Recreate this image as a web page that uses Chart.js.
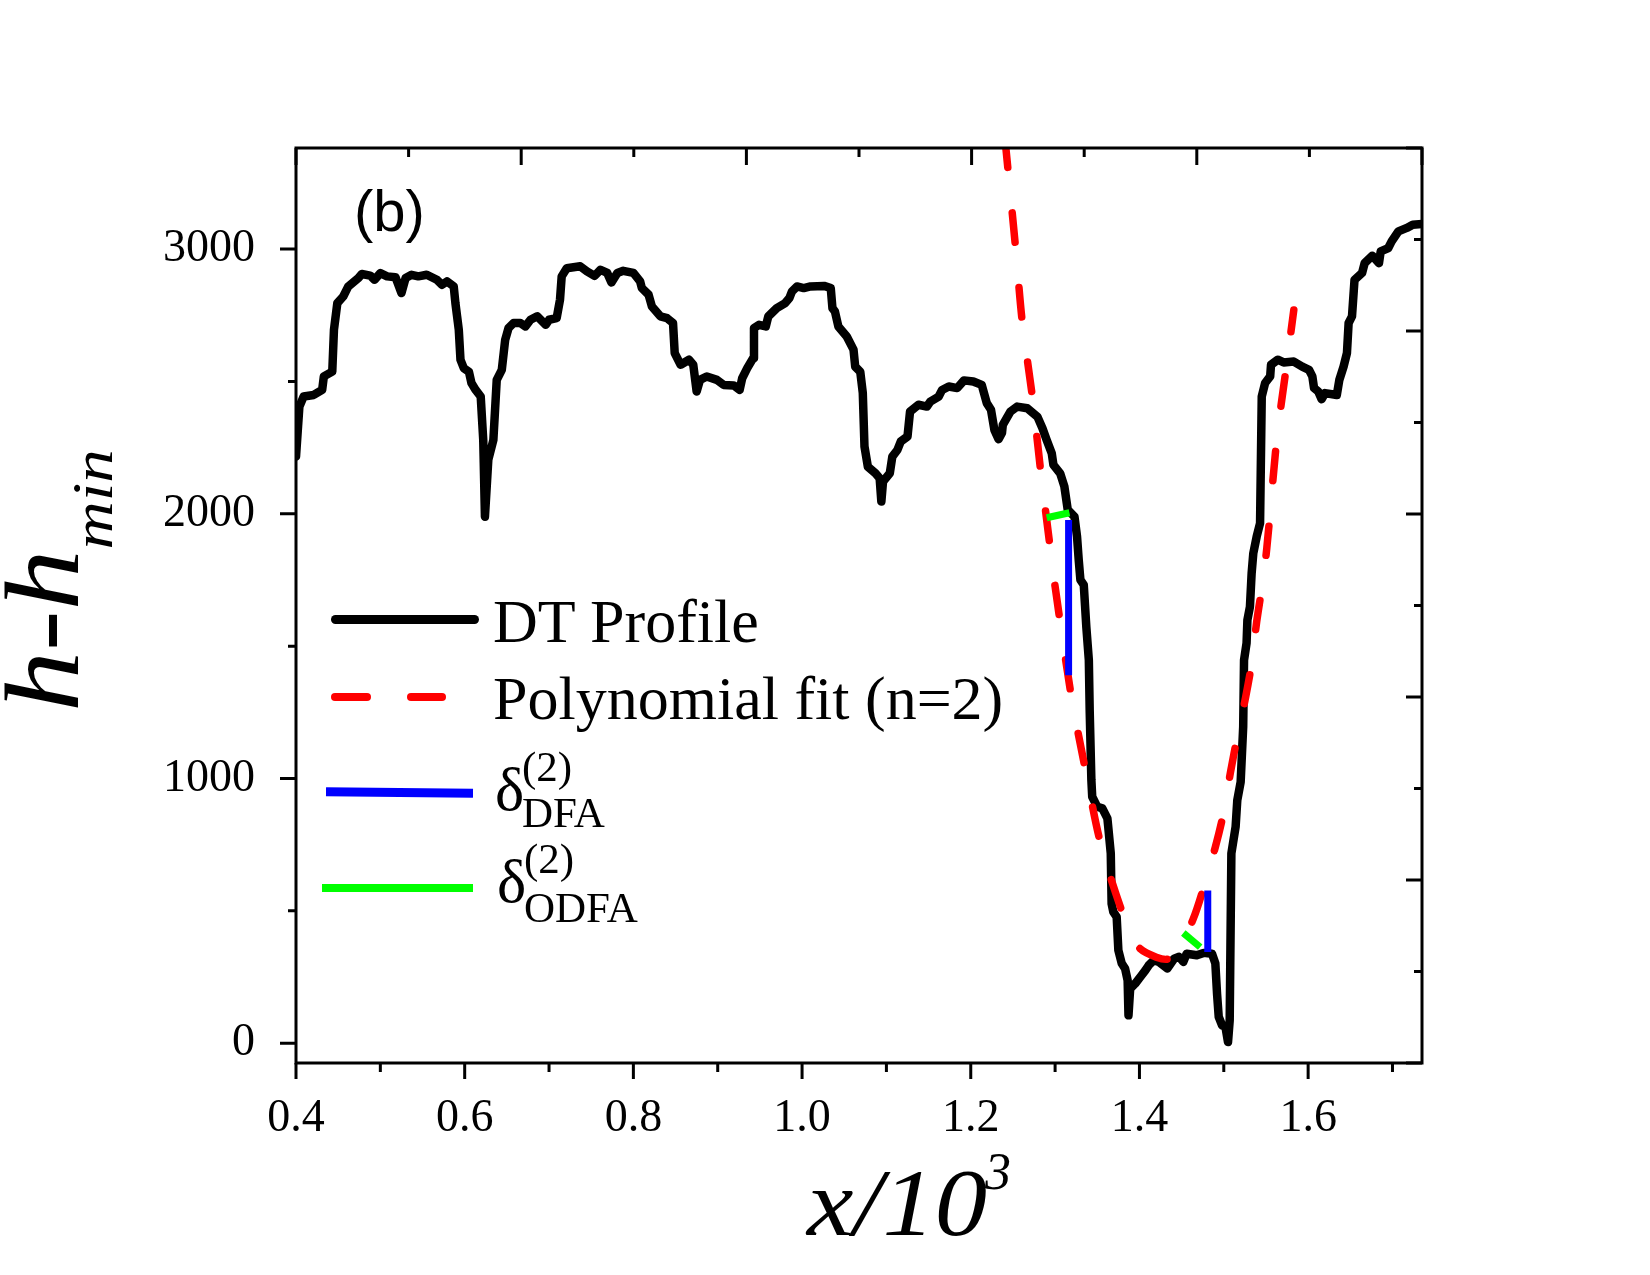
<!DOCTYPE html>
<html>
<head>
<meta charset="utf-8">
<title>DT profile and polynomial fit</title>
<script src="https://cdn.jsdelivr.net/npm/chart.js@4.4.1/dist/chart.umd.min.js"></script>
<style>
    html, body { margin: 0; padding: 0; background: #fff; }
    #wrap { position: relative; width: 1650px; height: 1275px; overflow: hidden; }
    #chart { position: absolute; left: 0; top: 0; }
    .txt { position: absolute; white-space: nowrap; line-height: 1; color: #000; font-family: "Liberation Serif", "Times New Roman", serif; }
    .swatch { position: absolute; }
</style>
</head>
<body>
<div id="wrap">
    <canvas id="chart" width="1650" height="1275"></canvas>
</div>
<script>
// --- data ---
const profileX = [0.400, 0.404, 0.409, 0.421, 0.431, 0.433, 0.443, 0.445, 0.449, 0.456, 0.462, 0.474, 0.478, 0.488, 0.493,
    0.500, 0.508, 0.518, 0.525, 0.530, 0.537, 0.545, 0.555, 0.567, 0.573, 0.579, 0.587, 0.589, 0.593, 0.595, 0.599,
    0.605, 0.608, 0.613, 0.619, 0.622, 0.624, 0.628, 0.634, 0.638, 0.644, 0.648, 0.652, 0.658, 0.666, 0.672, 0.678,
    0.686, 0.696, 0.700, 0.709, 0.713, 0.715, 0.721, 0.737, 0.745, 0.754, 0.761, 0.769, 0.774, 0.781, 0.788, 0.800,
    0.808, 0.810, 0.818, 0.822, 0.832, 0.840, 0.847, 0.849, 0.856, 0.866, 0.871, 0.875, 0.879, 0.887, 0.899, 0.907,
    0.919, 0.926, 0.929, 0.935, 0.942, 0.943, 0.949, 0.957, 0.960, 0.970, 0.980, 0.985, 0.988, 0.994, 1.002, 1.010,
    1.026, 1.034, 1.036, 1.039, 1.043, 1.053, 1.061, 1.063, 1.069, 1.072, 1.074, 1.078, 1.087, 1.092, 1.094, 1.096,
    1.104, 1.107, 1.113, 1.117, 1.125, 1.128, 1.138, 1.148, 1.152, 1.162, 1.166, 1.174, 1.184, 1.192, 1.203, 1.213,
    1.219, 1.224, 1.228, 1.233, 1.237, 1.238, 1.247, 1.255, 1.267, 1.279, 1.285, 1.290, 1.296, 1.298, 1.306, 1.311,
    1.315, 1.323, 1.326, 1.328, 1.330, 1.334, 1.337, 1.340, 1.341, 1.343, 1.344, 1.350, 1.356, 1.362, 1.363, 1.366,
    1.367, 1.369, 1.373, 1.375, 1.379, 1.383, 1.386, 1.387, 1.389, 1.395, 1.401, 1.407, 1.411, 1.417, 1.423, 1.433,
    1.441, 1.447, 1.452, 1.456, 1.468, 1.476, 1.486, 1.490, 1.492, 1.494, 1.498, 1.502, 1.505, 1.507, 1.509, 1.514,
    1.516, 1.520, 1.523, 1.524, 1.527, 1.528, 1.531, 1.533, 1.535, 1.539, 1.543, 1.545, 1.549, 1.555, 1.556, 1.564,
    1.571, 1.583, 1.593, 1.601, 1.605, 1.607, 1.612, 1.616, 1.620, 1.634, 1.637, 1.642, 1.646, 1.648, 1.652, 1.655,
    1.664, 1.667, 1.676, 1.684, 1.686, 1.695, 1.699, 1.707, 1.717, 1.724, 1.735];
const profileY = [2216, 2405, 2443, 2449, 2468, 2519, 2537, 2695, 2796, 2821, 2859, 2891, 2906, 2900, 2884,
    2909, 2897, 2894, 2834, 2891, 2903, 2897, 2903, 2884, 2865, 2878, 2859, 2796, 2695, 2582, 2550,
    2537, 2494, 2468, 2443, 2279, 1989, 2204, 2279, 2506, 2544, 2657, 2702, 2721, 2721, 2708, 2733,
    2746, 2714, 2733, 2739, 2809, 2897, 2928, 2935, 2916, 2899, 2922, 2910, 2874, 2910, 2918, 2910,
    2878, 2853, 2828, 2783, 2746, 2739, 2721, 2607, 2563, 2582, 2563, 2462, 2506, 2519, 2506, 2487,
    2485, 2468, 2512, 2550, 2588, 2702, 2714, 2708, 2746, 2777, 2796, 2815, 2840, 2859, 2853, 2859,
    2861, 2853, 2777, 2764, 2708, 2670, 2620, 2556, 2537, 2456, 2254, 2178, 2153, 2134, 2046, 2122,
    2153, 2216, 2241, 2273, 2292, 2386, 2412, 2405, 2424, 2443, 2468, 2481, 2475, 2504, 2500, 2487,
    2418, 2393, 2317, 2282, 2305, 2336, 2386, 2405, 2399, 2367, 2323, 2279, 2229, 2185, 2153, 2103,
    2015, 1989, 1914, 1826, 1750, 1731, 1573, 1447, 1258, 994, 931, 893, 887, 849, 817, 717,
    527, 496, 477, 351, 301, 282, 237, 105, 206, 225, 250, 275, 294, 313, 307, 282,
    319, 326, 307, 338, 332, 341, 338, 301, 187, 99, 67, 61, 4, 86, 717, 817,
    918, 987, 1195, 1447, 1511, 1599, 1649, 1775, 1851, 1914, 1964, 2443, 2494, 2519, 2563, 2582,
    2572, 2575, 2556, 2544, 2519, 2475, 2462, 2433, 2456, 2449, 2506, 2556, 2607, 2721, 2746, 2884,
    2910, 2947, 2975, 2947, 2991, 3004, 3029, 3067, 3080, 3092, 3095];

const fitX = [1.238, 1.253, 1.261, 1.273, 1.283, 1.294, 1.300, 1.319, 1.336, 1.354, 1.381, 1.399, 1.420, 1.435,
    1.450, 1.464, 1.477, 1.490, 1.500, 1.508, 1.516, 1.526, 1.533, 1.539, 1.545, 1.551, 1.563, 1.575, 1.583];
const fitY = [3500, 3010, 2727, 2443, 2159, 1876, 1725, 1315, 1032, 754, 483, 363, 325, 319,
    380, 471, 597, 741, 874, 1025, 1157, 1309, 1435, 1592, 1719, 1870, 2286, 2575, 2770];

// the two detrending residuals (vertical = DFA, normal = ODFA)
const dfaLeftX = [1.316, 1.316];
const dfaLeftY = [1977, 1390];
const dfaRightX = [1.481, 1.481];
const dfaRightY = [577, 344];
const odfaLeftX = [1.290, 1.317];
const odfaLeftY = [1985, 2004];
const odfaRightX = [1.452, 1.472];
const odfaRightY = [416, 363];

// axes
const xTicks = [0.4, 0.6, 0.8, 1.0, 1.2, 1.4, 1.6];
const xMinorTicks = [0.5, 0.7, 0.9, 1.1, 1.3, 1.5, 1.7];
const yTicks = [0, 1000, 2000, 3000];
const yMinorTicks = [500, 1500, 2500];
const mirrorTicks = [0, 1, 2, 3, 4, 5, 6, 7, 8, 9, 10];

const toPoints = (xs, ys) => xs.map((x, i) => ({ x, y: ys[i] }));

const serif = '"Liberation Serif", "Times New Roman", serif';

// frame + inward/outward tick marks like the original plot
const frameTicks = {
    id: 'frameTicks',
    afterDatasetsDraw(chart) {
        const { ctx, chartArea: a, scales } = chart;
        ctx.save();
        ctx.strokeStyle = '#000';
        ctx.lineWidth = 3;
        ctx.lineCap = 'butt';
        ctx.beginPath();
        xTicks.forEach(v => {
            const p = scales.x.getPixelForValue(v);
            ctx.moveTo(p, a.bottom); ctx.lineTo(p, a.bottom + 16);
        });
        xMinorTicks.forEach(v => {
            const p = scales.x.getPixelForValue(v);
            ctx.moveTo(p, a.bottom); ctx.lineTo(p, a.bottom + 9);
        });
        yTicks.forEach(v => {
            const p = scales.y.getPixelForValue(v);
            ctx.moveTo(a.left, p); ctx.lineTo(a.left - 16, p);
        });
        yMinorTicks.forEach(v => {
            const p = scales.y.getPixelForValue(v);
            ctx.moveTo(a.left, p); ctx.lineTo(a.left - 8, p);
        });
        mirrorTicks.forEach(v => {
            const len = v % 2 === 0 ? 17 : 9;
            const px = scales.x2.getPixelForValue(v);
            ctx.moveTo(px, a.top); ctx.lineTo(px, a.top + len);
            const py = scales.y2.getPixelForValue(v);
            ctx.moveTo(a.right, py); ctx.lineTo(a.right - len + 1, py);
        });
        ctx.stroke();
        ctx.strokeRect(a.left, a.top, a.right - a.left, a.bottom - a.top);
        ctx.restore();
    }
};

new Chart(document.getElementById('chart'), {
    type: 'scatter',
    data: {
        datasets: [
            {
                label: 'DT Profile',
                data: toPoints(profileX, profileY),
                showLine: true,
                borderColor: '#000',
                borderWidth: 8.5,
                borderJoinStyle: 'round',
                borderCapStyle: 'round',
                pointRadius: 0,
                order: 4
            },
            {
                label: 'Polynomial fit (n=2)',
                data: toPoints(fitX, fitY),
                showLine: true,
                borderColor: '#ff0000',
                borderWidth: 7.5,
                borderDash: [29.5, 45.5],
                borderDashOffset: 53.5,
                borderCapStyle: 'round',
                tension: 0.3,
                pointRadius: 0,
                order: 3
            },
            {
                label: 'DFA left',
                data: toPoints(dfaLeftX, dfaLeftY),
                showLine: true, borderColor: '#0000ff', borderWidth: 7, pointRadius: 0, order: 2
            },
            {
                label: 'DFA right',
                data: toPoints(dfaRightX, dfaRightY),
                showLine: true, borderColor: '#0000ff', borderWidth: 7, pointRadius: 0, order: 2
            },
            {
                label: 'ODFA left',
                data: toPoints(odfaLeftX, odfaLeftY),
                showLine: true, borderColor: '#00ff00', borderWidth: 7, pointRadius: 0, order: 1
            },
            {
                label: 'ODFA right',
                data: toPoints(odfaRightX, odfaRightY),
                showLine: true, borderColor: '#00ff00', borderWidth: 7, pointRadius: 0, order: 1
            }
        ]
    },
    options: {
        responsive: false,
        animation: false,
        events: [],
        layout: { padding: { top: 148, right: 228, left: 0, bottom: 0 } },
        plugins: { legend: { display: false }, tooltip: { enabled: false } },
        scales: {
            x: {
                type: 'linear', position: 'bottom', min: 0.4, max: 1.735,
                grid: { display: false }, border: { display: false },
                ticks: {
                    padding: 20, color: '#000', maxRotation: 0,
                    font: { family: serif, size: 46 },
                    callback: v => v.toFixed(1)
                },
                afterBuildTicks: s => { s.ticks = xTicks.map(v => ({ value: v })); },
                afterFit: s => { s.height = 212; }
            },
            y: {
                type: 'linear', position: 'left', min: -75, max: 3382,
                grid: { display: false }, border: { display: false },
                ticks: {
                    padding: 33, color: '#000',
                    font: { family: serif, size: 46 },
                    callback: v => String(v)
                },
                afterBuildTicks: s => { s.ticks = yTicks.map(v => ({ value: v })); },
                afterFit: s => { s.width = 296; }
            },
            x2: { type: 'linear', position: 'top', min: 0, max: 10, display: false },
            y2: { type: 'linear', position: 'right', min: 0, max: 10, display: false }
        }
    },
    plugins: [frameTicks]
});

// --- text that needs sub/superscripts, placed by baseline ---
const wrap = document.getElementById('wrap');
const ASC = { serif: 0.8375, sans: 0.8465 };

const placeText = (text, x, baseline, size, opts = {}) => {
    const el = document.createElement('div');
    el.className = 'txt';
    el.textContent = text;
    el.style.fontSize = size + 'px';
    if (opts.sans) el.style.fontFamily = '"Liberation Sans", Arial, sans-serif';
    if (opts.italic) el.style.fontStyle = 'italic';
    el.style.left = x + 'px';
    el.style.top = (baseline - (opts.sans ? ASC.sans : ASC.serif) * size) + 'px';
    wrap.appendChild(el);
    return el;
};

const placeLine = (x1, x2, y, width, color, round) => {
    const el = document.createElement('div');
    el.className = 'swatch';
    el.style.left = x1 + 'px';
    el.style.top = (y - width / 2) + 'px';
    el.style.width = (x2 - x1) + 'px';
    el.style.height = width + 'px';
    el.style.background = color;
    if (round) el.style.borderRadius = (width / 2) + 'px';
    wrap.appendChild(el);
    return el;
};

// panel label
placeText('(b)', 354, 231, 58, { sans: true });

// legend
placeLine(331, 479, 619.5, 9, '#000', true);
placeText('DT Profile', 493, 642, 62);
placeLine(331, 371, 697, 8, '#ff0000', true);
placeLine(407, 446, 697, 8, '#ff0000', true);
placeText('Polynomial fit (n=2)', 493, 718.5, 62);
placeLine(326, 472.5, 792, 9, '#0000ff', false).style.transform = 'rotate(0.5deg)';
placeText('δ', 495, 810, 62);
placeText('(2)', 522, 781, 43);
placeText('DFA', 522, 827.5, 43);
placeLine(322, 472.5, 888, 8.5, '#00ff00', false);
placeText('δ', 497, 902, 62);
placeText('(2)', 524, 873, 43);
placeText('ODFA', 524, 922, 43);

// axis titles
const xTitle = placeText('x/10', 807, 1235, 96, { italic: true });
xTitle.style.transformOrigin = '0 0';
xTitle.style.transform = 'scaleX(1.09)';
placeText('3', 985, 1190, 52, { italic: true });

const yTitle = document.createElement('div');
yTitle.className = 'txt';
yTitle.style.left = '-10px';
yTitle.style.top = '712px';
yTitle.style.transformOrigin = '0 0';
yTitle.style.transform = 'rotate(-90deg) scaleX(1.15)';
yTitle.style.fontStyle = 'italic';
yTitle.style.fontSize = '106px';
yTitle.innerHTML = 'h-h<span style="font-size:58px; position:relative; top:34px;">min</span>';
wrap.appendChild(yTitle);
</script>
</body>
</html>
